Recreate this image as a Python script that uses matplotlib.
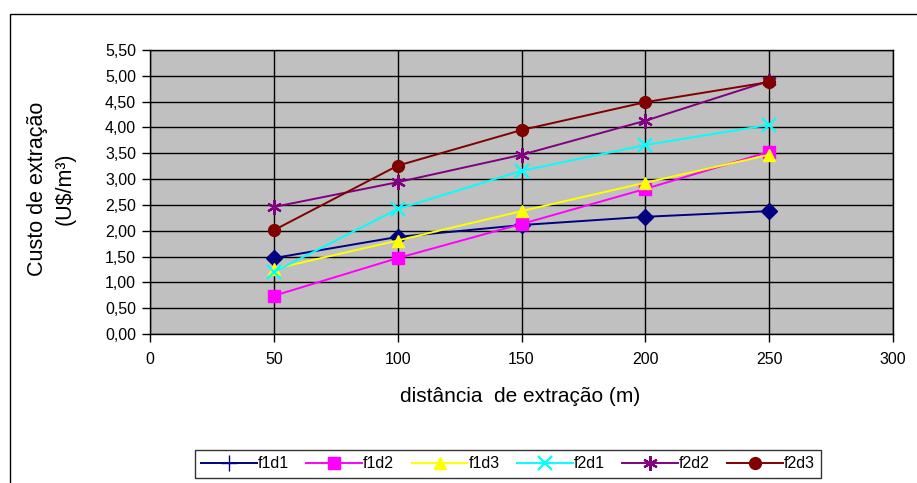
import matplotlib
matplotlib.use("Agg")
import matplotlib.pyplot as plt
from matplotlib.lines import Line2D
from matplotlib.patches import Rectangle
from matplotlib.ticker import FuncFormatter

plt.rcParams["font.family"] = ["Liberation Sans", "DejaVu Sans"]

distancia = [50, 100, 150, 200, 250]
f1d1 = [1.47, 1.88, 2.11, 2.27, 2.38]
f1d2 = [0.74, 1.47, 2.13, 2.81, 3.53]
f1d3 = [1.26, 1.81, 2.38, 2.93, 3.47]
f2d1 = [1.20, 2.42, 3.16, 3.66, 4.05]
f2d2 = [2.46, 2.94, 3.47, 4.13, 4.90]
f2d3 = [2.01, 3.26, 3.95, 4.49, 4.88]

series = [
    ("f1d1", f1d1, "#000080", "D", "+"),
    ("f1d2", f1d2, "#FF00FF", "s", "s"),
    ("f1d3", f1d3, "#FFFF00", "^", "^"),
    ("f2d1", f2d1, "#00FFFF", "x", "x"),
    ("f2d2", f2d2, "#800080", (6, 2, 0), (6, 2, 0)),
    ("f2d3", f2d3, "#800000", "o", "o"),
]

W, H = 917, 483
fig = plt.figure(figsize=(W / 100, H / 100), dpi=100)

# outer chart frame (only left and top visible in the reference)
fig.patches.append(Rectangle((10 / W, -0.1), 1.2, 1 - 14 / H + 0.1,
                             transform=fig.transFigure, fill=False,
                             edgecolor="black", lw=1.0))

ax = fig.add_axes([150 / W, 1 - 334 / H, (893 - 150) / W, (334 - 50) / H])
ax.set_facecolor("#C0C0C0")

handles = []
for name, vals, col, mk, lmk in series:
    filled = mk in ("D", "s", "^", "o")
    ms = 8.5 if filled else 10.5
    ax.plot(distancia, vals, color=col, lw=1.4, marker=mk, markersize=ms,
            markeredgewidth=1.0 if filled else 1.6, markeredgecolor=col,
            markerfacecolor=col, zorder=3)
    lms = 12 if lmk == "+" else ms
    handles.append(Line2D([], [], color=col, lw=1.4, marker=lmk, markersize=lms,
                          markeredgewidth=1.0 if filled else 1.6,
                          markeredgecolor=col, markerfacecolor=col, label=name))

ax.set_xlim(0, 300)
ax.set_ylim(0, 5.5)
ax.set_xticks(range(0, 301, 50))
ax.set_yticks([i * 0.5 for i in range(12)])
ax.yaxis.set_major_formatter(FuncFormatter(lambda v, p: f"{v:.2f}".replace(".", ",")))
ax.grid(True, color="black", lw=1.0)
ax.set_axisbelow(True)
for s in ax.spines.values():
    s.set_color("black")
    s.set_linewidth(1.0)
ax.tick_params(axis="both", direction="out", length=6, width=1.0,
               labelsize=11.5, pad=4, color="black")
ax.tick_params(axis="x", pad=7)

fig.text(520 / W, 1 - 397 / H, "distância  de extração (m)", fontsize=15,
         ha="center", va="center")
fig.text(51 / W, 1 - 189 / H, "Custo de extração\n(U$/m³)", fontsize=15.5,
         rotation=90, ha="center", va="center", multialignment="center",
         linespacing=1.4)

leg = fig.legend(handles=handles, loc="center", ncol=6,
                 bbox_to_anchor=((197 + 819) / 2 / W, 1 - 464 / H),
                 fontsize=11.5, frameon=True, fancybox=False, edgecolor="black",
                 handlelength=3.5, handletextpad=0.05, columnspacing=1.1,
                 borderpad=0.4)
leg.get_frame().set_linewidth(1.0)

fig.savefig("out.png", dpi=100)
